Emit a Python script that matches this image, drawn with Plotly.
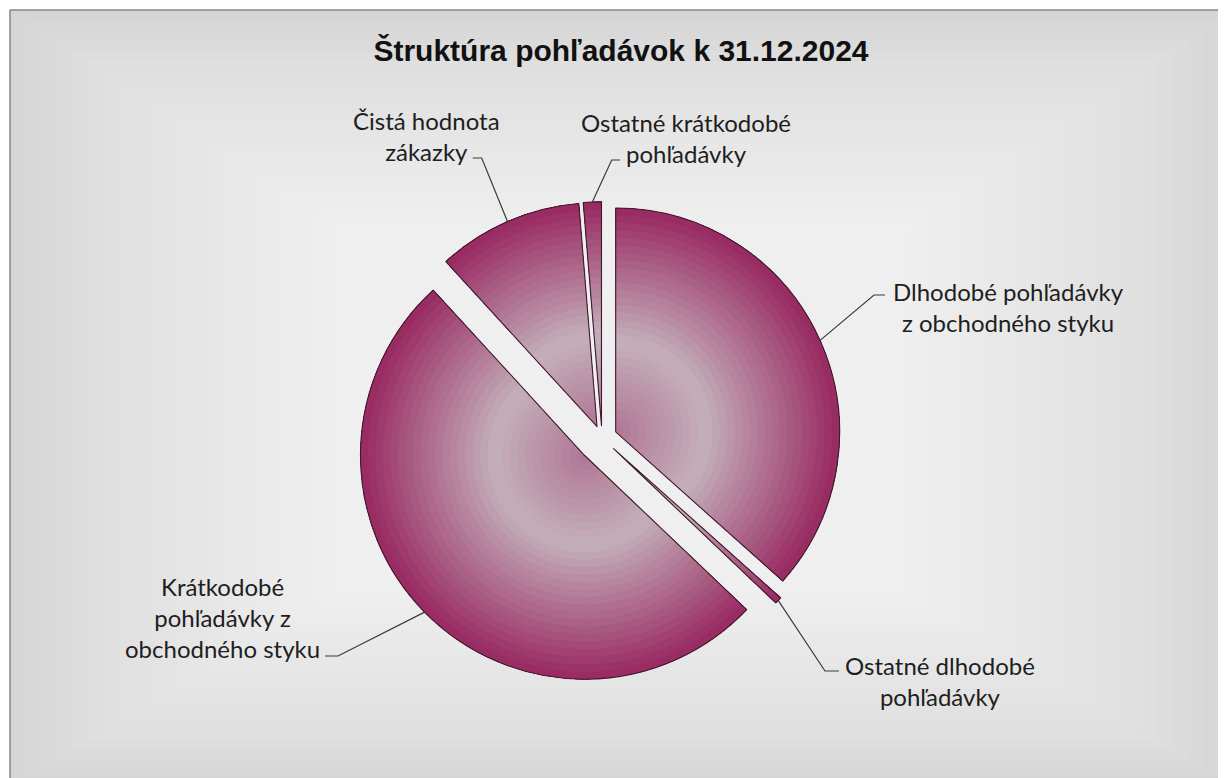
import math
import plotly.graph_objects as go

# ---- data ----
categories = [
    "Dlhodobé pohľadávky z obchodného styku",
    "Ostatné dlhodobé pohľadávky",
    "Krátkodobé pohľadávky z obchodného styku",
    "Čistá hodnota zákazky",
    "Ostatné krátkodobé pohľadávky",
]
label_lines = [
    ["Dlhodobé pohľadávky", "z obchodného styku"],
    ["Ostatné dlhodobé", "pohľadávky"],
    ["Krátkodobé", "pohľadávky z", "obchodného styku"],
    ["Čistá hodnota", "zákazky"],
    ["Ostatné krátkodobé", "pohľadávky"],
]
values = [36.6, 0.5, 51.1, 10.5, 1.3]
pulls = [0.067, 0.07, 0.11, 0.055, 0.055]
title_text = "Štruktúra pohľadávok k 31.12.2024"

# ---- layout constants (pixels in figure space) ----
W, H = 1226, 778
dom_x = [0.2345, 0.7345]
dom_y = [0.1278, 0.7668]
# label block centres and leader elbow / tick end points
label_pos = [(1000, 299.5), (931.5, 673), (214, 609), (418.7, 128), (678, 130)]
elbows = [((866, 287), (877, 287)),
          ((817, 663), (831, 663)),
          ((330, 648), (317, 648)),
          ((473.7, 150), (464.7, 150)),
          ((603.7, 152), (612, 152))]

# pie geometry (same rules as plotly's pie layout)
boxW = W * (dom_x[1] - dom_x[0])
boxH = H * (dom_y[1] - dom_y[0])
r = min(boxW, boxH) / 2 / (1 + max(pulls))
cx = W * (dom_x[0] + dom_x[1]) / 2
cy = H * (1 - dom_y[0]) - boxH / 2
total = sum(values)


def px2paper(x, y):
    return x / W, 1 - y / H


arc_points = []
acc = 0.0
for v, p in zip(values, pulls):
    mid = (acc + v / 2) / total * 2 * math.pi
    acc += v
    vx = cx + p * r * math.sin(mid)
    vy = cy - p * r * math.cos(mid)
    arc_points.append((vx + r * math.sin(mid), vy - r * math.cos(mid)))

# colour stops for radial shading (fraction of radius -> rgb)
stops = [(0.0, (176, 118, 148)), (0.4, (196, 176, 186)), (1.0, (152, 40, 96))]


def col_at(t):
    for (t0, c0), (t1, c1) in zip(stops[:-1], stops[1:]):
        if t0 <= t <= t1:
            f = (t - t0) / (t1 - t0)
            return "rgb(%d,%d,%d)" % tuple(round(a + (b - a) * f) for a, b in zip(c0, c1))
    return "rgb(%d,%d,%d)" % stops[-1][1]


fig = go.Figure()
domain = dict(x=dom_x, y=dom_y)

n_bands = 30
for k in range(n_bands):
    h = k / n_bands
    t = (k + 0.5) / n_bands
    c = col_at(t)
    fig.add_trace(go.Pie(
        labels=categories, values=values, pull=pulls, hole=h,
        sort=False, direction="clockwise", rotation=0,
        domain=domain, textinfo="none", hoverinfo="skip",
        marker=dict(colors=[c] * len(values), line=dict(width=0)),
        showlegend=False,
    ))

# outline on top
fig.add_trace(go.Pie(
    labels=categories, values=values, pull=pulls,
    sort=False, direction="clockwise", rotation=0,
    domain=domain, textinfo="none",
    marker=dict(colors=["rgba(0,0,0,0)"] * len(values),
                line=dict(color="#3f1a2e", width=1.1)),
    showlegend=False,
))

# ---- background frame with soft rectangular gradient ----
shapes = []
fx0, fy0 = px2paper(2, 2)
shapes.append(dict(type="rect", xref="paper", yref="paper", x0=fx0, x1=1.0, y0=0.0, y1=fy0,
                   fillcolor="#d5d5d5", line=dict(width=0), layer="below"))
gcx, gcy = px2paper(612, 410)
n_bg = 40
for i in range(1, n_bg):
    f = 1 - i / n_bg
    shapes.append(dict(type="rect", xref="paper", yref="paper",
                       x0=gcx - (gcx - fx0) * f, x1=gcx + (1.0 - gcx) * f,
                       y0=gcy - (gcy - 0.0) * f, y1=gcy + (fy0 - gcy) * f,
                       fillcolor="rgba(255,255,255,0.058)", line=dict(width=0), layer="below"))
# frame border (left & top visible)
shapes.append(dict(type="line", xref="paper", yref="paper", x0=fx0, x1=fx0, y0=0, y1=fy0,
                   line=dict(color="#858585", width=1.5), layer="below"))
shapes.append(dict(type="line", xref="paper", yref="paper", x0=fx0, x1=1, y0=fy0, y1=fy0,
                   line=dict(color="#858585", width=1.5), layer="below"))

# ---- leader lines and labels ----
annotations = []
for lines, (lx, ly), (ap), ((ex, ey), (tx, ty)) in zip(label_lines, label_pos, arc_points, elbows):
    ax_, ay_ = ap
    p0 = px2paper(ax_, ay_)
    p1 = px2paper(ex, ey)
    p2 = px2paper(tx, ty)
    shapes.append(dict(type="path", xref="paper", yref="paper",
                       path="M %f,%f L %f,%f L %f,%f" % (p0[0], p0[1], p1[0], p1[1], p2[0], p2[1]),
                       line=dict(color="#3a3a3a", width=1.2)))
    qx, qy = px2paper(lx, ly)
    annotations.append(dict(text="<br>".join(lines), x=qx, y=qy, xref="paper", yref="paper",
                            xanchor="center", yanchor="middle", align="center", showarrow=False,
                            font=dict(family="Lato", size=24, color="#1e1e1e")))

fig.update_layout(
    width=W, height=H,
    margin=dict(l=0, r=0, t=0, b=0, autoexpand=False),
    paper_bgcolor="white",
    plot_bgcolor="white",
    shapes=shapes,
    annotations=annotations,
    title=dict(text="<b>" + title_text + "</b>", x=0.5, xanchor="center",
               y=1 - 42 / H, yanchor="middle",
               font=dict(family="Liberation Sans", size=30, color="#111111")),
)

fig.write_html("out.html")
